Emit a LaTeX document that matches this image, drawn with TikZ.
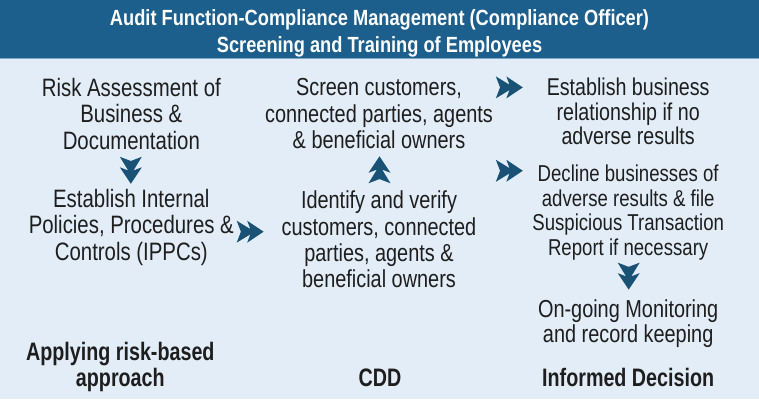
\documentclass[tikz,border=0pt]{standalone}
\usepackage{fontspec}
\setmainfont{Liberation Sans}
\newfontfamily\bodyf[FakeStretch=0.81]{Liberation Sans}
\newfontfamily\boldf[FakeStretch=0.78]{Liberation Sans Bold}
\newfontfamily\headf[FakeStretch=0.83]{Liberation Sans Bold}
\definecolor{band}{HTML}{1C5E8C}
\definecolor{bandline}{HTML}{7FA8C9}
\definecolor{bg}{HTML}{E3EDF7}
\definecolor{chevcol}{HTML}{1A5275}
\definecolor{ink}{HTML}{1E1E1E}
\newcommand{\firstline}{\rule{0pt}{20pt}}
\newcommand{\fsz}[2]{\fontsize{#1}{#2}\selectfont}
\tikzset{
  txt/.style={anchor=north, inner sep=0pt, align=center, text=ink,
    font=\bodyf#1},
  lbl/.style={anchor=north, inner sep=0pt, align=center, text=ink,
    font=\boldf\fsz{25.3}{26}},
  head/.style={anchor=north, inner sep=0pt, align=center, text=white,
    font=\headf\fsz{22}{27}},
  dchev/.pic={\fill[chevcol] (-13.5,11) -- (4.5,0) -- (-13.5,-11) -- (-9.3,0) -- cycle
      (-3,11) -- (13.5,0) -- (-3,-11) -- (1.2,0) -- cycle;}
}
\begin{document}
\begin{tikzpicture}[x=1pt,y=1pt]
\fill[bg] (0,0) rectangle (759,-400);
\fill[band] (0,0) rectangle (759,-58);
\draw[bandline, line width=1pt] (0,-58.5) -- (759,-58.5);
\useasboundingbox (0,0) rectangle (759,-400);

\node[head] (title) at (379.5,-5) {\firstline Audit Function-Compliance Management (Compliance Officer)\\Screening and Training of Employees};

\node[txt={\fsz{25.2}{26.5}}] (risk) at (131,-76) {\firstline Risk Assessment of\\Business \&\\Documentation};
\node[txt={\fsz{25.2}{26.5}}] (ippc) at (131,-187.5) {\firstline Establish Internal\\Policies, Procedures \&\\Controls (IPPCs)};
\node[txt={\fsz{24.6}{26.5}}] (screen) at (379,-75.5) {\firstline Screen customers,\\connected parties, agents\\\& beneficial owners};
\node[txt={\fsz{24.6}{26.3}}] (ident) at (379,-189) {\firstline Identify and verify\\customers, connected\\parties, agents \&\\beneficial owners};
\node[txt={\fsz{24.3}{24.5}}] (estab) at (628.5,-75.5) {\firstline Establish business\\relationship if no\\adverse results};
\node[txt={\fsz{23}{24.4}}] (decl) at (628.5,-162) {\firstline Decline businesses of\\adverse results \& file\\Suspicious Transaction\\Report if necessary};
\node[txt={\fsz{24.6}{25}}] (mon) at (628.5,-298) {\firstline On-going Monitoring\\and record keeping};

\node[lbl] (rba) at (120,-341) {\firstline Applying risk-based\\approach};
\node[lbl, anchor=base] (cdd) at (380,-387) {CDD};
\node[lbl, anchor=base] (inf) at (628.5,-387) {Informed Decision};

\pic[rotate=-90] at (130.5,-170.5) {dchev};
\pic at (250,-232) {dchev};
\pic[rotate=90] at (379.5,-170) {dchev};
\pic at (509.5,-87.5) {dchev};
\pic at (509.5,-171) {dchev};
\pic[rotate=-90] at (629,-276.5) {dchev};
\end{tikzpicture}
\end{document}
